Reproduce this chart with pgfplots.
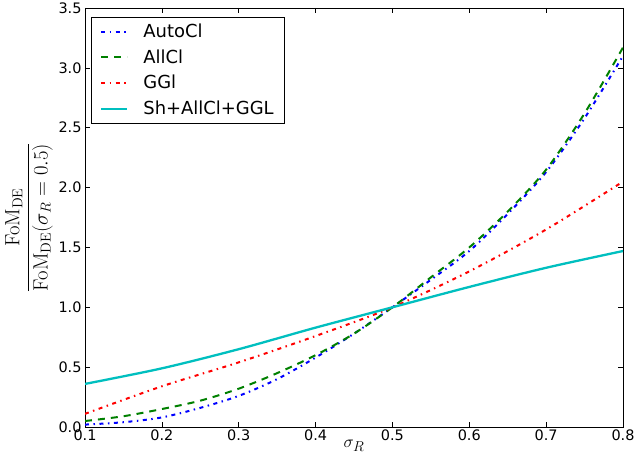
\documentclass[border=0pt]{standalone}
\usepackage[no-math]{fontspec}
\setmainfont{DejaVu Sans}
\usepackage{pgfplots}
\pgfplotsset{compat=1.18}
\definecolor{mblue}{rgb}{0,0,1}
\definecolor{mgreen}{rgb}{0,0.5,0}
\definecolor{mred}{rgb}{1,0,0}
\definecolor{mcyan}{rgb}{0,0.75,0.75}
\begin{document}
\begin{tikzpicture}
\begin{axis}[
  scale only axis,
  width=538bp, height=419bp,
  xmin=0.1, xmax=0.8, ymin=0, ymax=3.5,
  xtick={0.1,0.2,...,0.8}, ytick={0,0.5,...,3.5},
  tick align=inside, tick pos=both,
  major tick length=5bp,
  every tick/.style={black, line width=0.6pt},
  ticklabel style={font=\fontsize{14.5}{17}\selectfont, /pgf/number format/fixed, /pgf/number format/fixed zerofill, /pgf/number format/precision=1},
  /pgf/number format/assume math mode=true,
  xticklabel style={yshift=1bp},
  axis line style={line width=0.8pt},
  xlabel={$\sigma_R$},
  xlabel style={font=\fontsize{19}{22}\selectfont, yshift=7bp},
  ylabel={$\displaystyle\frac{\mathrm{FoM}_{\mathrm{DE}}}{\mathrm{FoM}_{\mathrm{DE}}(\sigma_R=0.5)}$},
  ylabel style={font=\fontsize{19.5}{23}\selectfont, yshift=-1bp},
  legend style={font=\fontsize{18}{21}\selectfont, draw=black, line width=0.6pt, inner xsep=9bp, inner ysep=5bp, row sep=6.5bp, at={(0.011,0.979)}, anchor=north west,
    nodes={inner sep=2bp}},
  legend cell align=left,
  legend image code/.code={\draw[#1, line width=2bp] (0bp,0bp) -- (26bp,0bp); \path (39bp,0bp);},
]
\addplot[mblue, line width=2bp, smooth, dash pattern=on 4bp off 4.5bp on 1.5bp off 4.5bp] coordinates {
(0.1,0.02) (0.15,0.04) (0.2,0.08) (0.25,0.16) (0.3,0.26) (0.35,0.40) (0.4,0.58) (0.45,0.78) (0.5,1.0) (0.55,1.23) (0.6,1.47) (0.65,1.78) (0.7,2.13) (0.75,2.58) (0.8,3.10)};
\addlegendentry{AutoCl}
\addplot[mgreen, line width=2bp, smooth, dash pattern=on 7bp off 6bp] coordinates {
(0.1,0.05) (0.15,0.09) (0.2,0.15) (0.25,0.22) (0.3,0.32) (0.35,0.45) (0.4,0.60) (0.45,0.78) (0.5,1.0) (0.55,1.25) (0.6,1.50) (0.65,1.80) (0.7,2.15) (0.75,2.62) (0.8,3.17)};
\addlegendentry{AllCl}
\addplot[mred, line width=2bp, smooth, dash pattern=on 4bp off 4.5bp on 1.5bp off 4.5bp] coordinates {
(0.1,0.11) (0.2,0.34) (0.3,0.54) (0.4,0.76) (0.5,1.0) (0.6,1.30) (0.7,1.65) (0.8,2.05)};
\addlegendentry{GGl}
\addplot[mcyan, line width=2.3bp, smooth] coordinates {
(0.1,0.36) (0.2,0.49) (0.3,0.65) (0.4,0.83) (0.5,1.0) (0.6,1.17) (0.7,1.33) (0.8,1.47)};
\addlegendentry{Sh+AllCl+GGL}
\coordinate (sw) at (rel axis cs:0,0);
\coordinate (ne) at (rel axis cs:1,1);
\end{axis}
\pgfresetboundingbox
\path ([shift={(-85bp,-39bp)}]sw) rectangle ([shift={(13bp,8bp)}]ne);
\end{tikzpicture}
\end{document}
